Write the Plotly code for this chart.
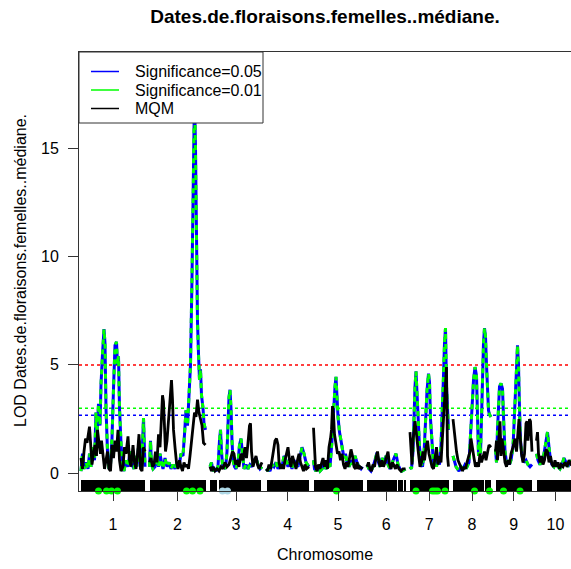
import plotly.graph_objects as go

# ---------------- data ----------------
CHROMOSOMES = ["1", "2", "3", "4", "5", "6", "7", "8", "9", "10"]
CHR_LENGTHS = [128, 112, 104, 85, 98, 77, 77, 76, 73, 76]   # cM
CHR_GAP = 9                                                  # cM between chromosomes

THRESH_RED = 5.0
THRESH_GREEN = 3.0
THRESH_BLUE = 2.68

# Significance LOD profile (pos cM within chromosome, LOD)
SIG_CHR1 = [(0,0.1),(3,0.9),(6,0.2),(10,0.5),(14,0.2),(17,0.9),(20,0.3),(24,1.2),(27,0.6),(30,2.8),
            (32,1.8),(35,3.2),(38,2.2),(40,4.1),(43,5.5),(46,6.65),(48,6.0),(50,3.0),(53,1.0),(56,0.2),
            (59,0.4),(62,1.6),(65,3.9),(68,5.9),(71,6.07),(73,5.0),(75,5.4),(77,3.0),(80,1.4),(83,0.3),
            (86,0.1),(90,0.6),(94,0.3),(98,1.0),(102,0.4),(106,0.2),(109,0.8),(112,0.3),(116,1.5),(120,0.2),
            (123,1.3),(125,2.55),(128,0.3)]
SIG_CHR2 = [(0,0.3),(2,1.5),(4,0.4),(7,0.2),(11,0.3),(15,0.8),(18,0.3),(21,0.9),(24,0.5),(27,0.2),
            (31,0.7),(35,0.3),(39,0.5),(43,0.2),(47,0.4),(51,0.2),(55,0.5),(59,0.3),(63,0.9),(67,0.8),
            (70,1.8),(73,2.9),(76,2.2),(79,3.5),(82,5.0),(85,9.0),(88,14.0),(90,17.5),(92,15.0),(94,10.0),
            (96,7.0),(98,5.5),(100,4.3),(102,4.8),(104,3.6),(107,3.0),(109,2.3),(112,2.0)]
SIG_CHR3 = [(0,0.3),(3,0.5),(6,0.1),(9,0.2),(12,0.1),(16,0.3),(19,1.5),(21,2.0),(23,1.0),(25,0.4),
            (28,0.3),(31,0.2),(34,1.0),(36,2.4),(38,3.5),(40,3.85),(42,3.0),(44,1.5),(46,0.6),(49,0.3),
            (52,0.2),(56,0.5),(59,1.3),(62,1.6),(65,0.8),(68,0.2),(72,0.4),(76,0.2),(80,0.4),(84,0.3),
            (88,0.6),(92,0.7),(96,0.4),(100,0.2),(104,0.3)]
SIG_CHR4 = [(0,0.1),(3,0.2),(7,0.1),(11,0.4),(15,0.3),(19,0.5),(23,0.2),(27,0.4),(31,0.3),(35,0.8),
            (39,0.6),(43,0.3),(47,0.5),(51,0.2),(55,0.6),(59,0.4),(63,0.3),(67,0.8),(71,1.2),(75,0.9),
            (79,0.5),(85,0.3)]
SIG_CHR5 = [(0,0.6),(2,0.2),(5,0.1),(9,0.3),(13,0.1),(17,0.2),(21,0.4),(25,0.2),(29,0.4),(33,0.3),
            (37,1.5),(40,3.0),(43,4.0),(45,4.45),(47,3.5),(49,2.6),(52,1.9),(55,1.5),(58,1.0),(61,0.7),
            (64,0.9),(67,0.5),(71,0.3),(75,0.6),(79,0.4),(83,0.8),(87,0.5),(91,0.3),(95,0.2),(98,0.3)]
SIG_CHR6 = [(0,0.4),(4,0.2),(8,0.1),(12,0.3),(16,0.6),(20,0.95),(23,0.5),(26,0.3),(30,0.7),(34,0.5),
            (38,0.8),(42,0.4),(46,0.2),(50,0.5),(54,0.7),(58,0.9),(62,0.4),(66,0.2),(70,0.1),(77,0.2)]
SIG_CHR7 = [(0,0.3),(3,0.2),(6,1.0),(8,2.8),(10,4.0),(12,4.7),(14,3.6),(16,2.4),(19,1.2),(22,0.5),
            (25,0.3),(28,0.9),(31,2.6),(34,3.8),(37,4.6),(39,4.2),(41,2.5),(44,1.2),(47,0.4),(50,0.6),
            (53,0.3),(56,0.7),(59,0.4),(62,1.3),(65,2.8),(67,4.5),(69,6.0),(71,6.7),(73,4.0),(75,3.0),
            (77,2.0)]
SIG_CHR8 = [(0,0.8),(3,0.5),(6,0.3),(9,0.2),(12,0.1),(16,0.3),(20,0.2),(24,0.4),(28,0.3),(32,0.5),
            (35,1.5),(38,3.0),(41,4.3),(44,4.9),(47,4.5),(49,2.3),(51,0.8),(53,1.5),(55,0.9),(57,2.5),
            (59,4.5),(61,6.0),(63,6.7),(65,6.3),(67,5.0),(69,3.4),(71,2.9),(73,2.7),(76,2.6)]
SIG_CHR9 = [(0,1.1),(2,0.5),(4,2.0),(6,3.2),(8,4.0),(11,4.15),(14,3.9),(16,2.6),(19,1.0),(22,0.5),
            (25,0.6),(28,0.4),(31,0.6),(35,1.2),(38,2.5),(40,3.5),(42,4.8),(44,5.9),(46,5.0),(48,3.0),
            (50,1.5),(53,0.8),(57,0.5),(61,0.6),(65,0.4),(69,0.3),(73,0.4)]
SIG_CHR10 = [(0,0.9),(3,0.6),(7,0.4),(11,0.6),(15,0.9),(19,1.5),(22,1.9),(25,1.2),(28,0.6),(31,0.4),
             (35,0.3),(39,0.5),(43,0.3),(47,0.2),(51,0.4),(55,0.7),(59,0.5),(63,0.3),(67,0.6),(71,0.4),
             (76,0.3)]

# MQM LOD profile
MQM_CHR1 = [(0,0.7),(3,0.2),(6,1.0),(9,1.6),(12,1.4),(15,2.0),(17,2.15),(20,1.1),(22,0.4),(25,0.9),
            (28,1.3),(31,0.8),(33,2.0),(36,1.4),(39,0.9),(41,1.5),(44,0.8),(47,0.2),(50,0.6),(53,1.0),
            (56,0.2),(59,0.1),(62,1.3),(65,0.7),(68,1.5),(71,1.0),(74,2.0),(77,0.6),(80,0.1),(84,0.3),
            (87,1.2),(90,0.9),(94,1.7),(97,0.6),(100,0.3),(104,1.3),(107,0.5),(110,0.2),(113,0.9),(116,1.8),
            (119,0.2),(122,0.1),(125,1.2),(128,1.0)]
MQM_CHR2 = [(0,0.5),(3,0.7),(6,0.3),(9,0.4),(12,1.0),(15,0.5),(18,1.8),(21,1.2),(24,2.6),(26,3.6),
            (28,3.3),(30,2.0),(32,1.0),(35,1.5),(38,2.5),(41,3.3),(44,4.3),(46,3.4),(48,2.0),(51,1.2),
            (54,0.5),(57,0.2),(60,0.6),(63,0.3),(66,0.1),(69,0.5),(72,0.3),(75,0.4),(78,0.2),(81,0.8),
            (84,1.6),(87,2.4),(90,2.8),(93,2.6),(96,3.4),(99,2.8),(102,2.5),(105,2.2),(108,1.4),(112,1.3)]
MQM_CHR3 = [(0,0.3),(3,0.1),(6,0.3),(10,0.1),(14,0.2),(18,0.1),(22,0.3),(26,0.2),(30,0.5),(34,0.3),
            (38,0.4),(42,0.8),(45,1.0),(48,0.9),(51,0.4),(54,0.6),(58,0.3),(62,0.9),(66,0.6),(70,1.2),
            (73,0.7),(76,1.4),(79,2.2),(81,2.3),(83,1.0),(86,0.3),(89,0.6),(92,0.8),(95,0.4),(98,0.2),
            (104,0.5)]
MQM_CHR4 = [(0,0.2),(2,0.1),(5,0.4),(8,0.2),(11,0.6),(14,1.1),(17,1.5),(20,1.6),(23,1.3),(25,0.5),
            (28,0.2),(31,0.4),(34,0.2),(37,0.6),(40,1.0),(43,1.2),(46,0.6),(49,0.3),(52,0.8),(55,0.5),
            (59,0.2),(62,0.6),(65,0.9),(68,0.5),(71,0.3),(74,0.1),(77,0.4),(80,0.2),(85,0.3)]
MQM_CHR5 = [(0,2.1),(2,1.2),(4,0.3),(7,0.1),(10,0.4),(13,0.2),(16,0.5),(19,0.7),(22,0.3),(25,0.6),
            (28,0.2),(31,1.2),(34,1.6),(36,2.0),(38,3.1),(40,2.7),(42,1.8),(45,1.4),(48,0.9),(51,1.0),
            (54,0.6),(57,0.9),(60,0.4),(63,0.2),(66,0.5),(69,0.3),(72,0.7),(75,1.1),(78,0.8),(81,0.3),
            (84,0.2),(87,0.5),(90,0.2),(93,0.3),(98,0.2)]
MQM_CHR6 = [(0,0.3),(3,0.5),(6,0.2),(9,0.1),(12,0.4),(15,0.3),(18,0.7),(21,1.0),(24,0.5),(27,0.3),
            (30,0.6),(33,0.3),(36,0.5),(39,0.8),(42,1.0),(45,0.4),(48,0.2),(51,0.5),(54,0.3),(57,0.2),
            (60,0.4),(64,0.2),(68,0.1),(72,0.2),(77,0.2)]
MQM_CHR7 = [(0,1.9),(2,1.0),(4,0.4),(6,1.5),(8,2.1),(10,2.4),(12,2.0),(14,1.4),(17,0.9),(20,0.3),
            (23,0.5),(26,1.0),(29,0.6),(32,1.2),(35,1.5),(38,0.9),(41,0.5),(44,0.3),(47,0.2),(50,0.6),
            (53,1.2),(56,0.4),(59,0.8),(62,0.5),(65,1.6),(67,2.4),(69,3.5),(71,4.0),(73,4.9),(75,0.8),
            (77,0.3)]
MQM_CHR8 = [(0,2.5),(2,2.0),(4,1.4),(7,1.0),(10,0.6),(13,0.4),(16,0.2),(19,0.1),(22,0.3),(25,0.2),
            (28,0.5),(31,0.8),(34,1.0),(36,1.6),(39,1.0),(42,0.7),(45,0.3),(48,0.5),(51,0.3),(54,0.9),
            (57,0.5),(60,0.8),(63,1.0),(66,0.6),(69,1.0),(72,1.3),(76,1.2)]
MQM_CHR9 = [(0,1.0),(2,1.5),(4,0.6),(6,1.3),(9,2.4),(11,0.8),(13,1.6),(16,1.1),(19,0.5),(22,0.3),
            (25,0.6),(28,0.4),(31,0.9),(35,1.2),(39,1.6),(42,1.0),(45,2.0),(47,2.5),(49,1.8),(52,0.9),
            (55,0.5),(58,0.9),(61,2.3),(63,2.4),(65,1.5),(68,2.5),(70,2.4),(73,1.0)]
MQM_CHR10 = [(0,1.5),(2,1.9),(4,0.9),(7,0.5),(10,0.8),(13,0.4),(16,0.6),(19,1.1),(22,1.0),(25,0.5),
             (28,0.8),(31,0.4),(34,0.3),(37,0.6),(40,0.3),(43,0.5),(46,0.2),(49,0.4),(53,0.3),(57,0.5),
             (61,0.3),(65,0.6),(69,0.4),(76,0.3)]

SIG_PROFILE = [SIG_CHR1, SIG_CHR2, SIG_CHR3, SIG_CHR4, SIG_CHR5,
               SIG_CHR6, SIG_CHR7, SIG_CHR8, SIG_CHR9, SIG_CHR10]
MQM_PROFILE = [MQM_CHR1, MQM_CHR2, MQM_CHR3, MQM_CHR4, MQM_CHR5,
               MQM_CHR6, MQM_CHR7, MQM_CHR8, MQM_CHR9, MQM_CHR10]

# marker-covered spans per chromosome (cM)
MARKER_SPANS = [[(0, 128)], [(0, 112)], [(0, 14), (17, 101)], [(0, 85)], [(0, 98)],
                [(0, 59), (62, 72), (76, 77)], [(0, 77)], [(0, 61), (64, 76)], [(0, 73)], [(0, 76)]]

# cofactor markers (chromosome index, cM)
COFACTORS = [(0, 35), (0, 51), (0, 61), (0, 73), (1, 74), (1, 86), (1, 101), (4, 46),
             (6, 12), (6, 45), (6, 50), (6, 55), (6, 70), (7, 43), (7, 73), (8, 16), (8, 49)]
DROPPED_COFACTORS = [(2, 25), (2, 35)]

TITLE = "Dates.de.floraisons.femelles..médiane."
YLABEL = "LOD Dates.de.floraisons.femelles..médiane."
XLABEL = "Chromosome"
LEGEND_LABELS = ["Significance=0.05", "Significance=0.01", "MQM"]
LEGEND_COLORS = ["#0000FF", "#00FF00", "#000000"]

# ---------------- layout helpers ----------------
offsets = []
acc = 0
for L in CHR_LENGTHS:
    offsets.append(acc)
    acc += L + CHR_GAP
centers = [o + L / 2 for o, L in zip(offsets, CHR_LENGTHS)]

def genome_xy(profile):
    xs, ys = [], []
    for i, chrom in enumerate(profile):
        for p, v in chrom:
            xs.append(offsets[i] + p)
            ys.append(v)
        xs.append(None)
        ys.append(None)
    return xs, ys

FONT = "Liberation Sans, Arial, sans-serif"
YMIN, YMAX = -0.82, 19.44
XMIN, XMAX = -4, 980
W, H = 571, 569
ML, MR, MT, MB = 79, 0, 52, 78
PW, PH = W - ML - MR, H - MT - MB

def px_x(px):
    return (px - ML) / PW

def px_y(py):
    return (H - MB - py) / PH

fig = go.Figure()

# thresholds
for val, col in [(THRESH_RED, "#FF0000"), (THRESH_GREEN, "#00FF00"), (THRESH_BLUE, "#0000FF")]:
    fig.add_trace(go.Scatter(x=[XMIN, XMAX], y=[val, val], mode="lines",
                             line=dict(color=col, width=1.5, dash="dot"),
                             hoverinfo="skip", showlegend=False))

# marker rug
rx, rw = [], []
for i, spans in enumerate(MARKER_SPANS):
    for a, b in spans:
        rx.append(offsets[i] + (a + b) / 2)
        rw.append(max(b - a, 1.2))
fig.add_trace(go.Bar(x=rx, y=[0.51] * len(rx), base=[YMIN] * len(rx), width=rw,
                     marker=dict(color="#000000", line=dict(width=0)), showlegend=False,
                     hoverinfo="skip"))

sx, sy = genome_xy(SIG_PROFILE)
mx, my = genome_xy(MQM_PROFILE)
fig.add_trace(go.Scatter(x=sx, y=sy, mode="lines", line=dict(color="#0000FF", width=3),
                         name=LEGEND_LABELS[0], showlegend=False))
fig.add_trace(go.Scatter(x=sx, y=sy, mode="lines", line=dict(color="#00FF00", width=3, dash="5px,5px"),
                         name=LEGEND_LABELS[1], showlegend=False))
fig.add_trace(go.Scatter(x=mx, y=my, mode="lines", line=dict(color="#000000", width=2.8),
                         name=LEGEND_LABELS[2], showlegend=False))

# cofactors
fig.add_trace(go.Scatter(x=[offsets[c] + p for c, p in COFACTORS], y=[YMIN] * len(COFACTORS),
                         mode="markers", marker=dict(color="#00FF00", size=7),
                         cliponaxis=False, showlegend=False))
fig.add_trace(go.Scatter(x=[offsets[c] + p for c, p in DROPPED_COFACTORS], y=[YMIN] * len(DROPPED_COFACTORS),
                         mode="markers", marker=dict(color="#ADD8E6", size=7),
                         cliponaxis=False, showlegend=False))

# legend (drawn manually, R style)
shapes = [dict(type="rect", xref="paper", yref="paper", x0=px_x(79), x1=px_x(263),
               y0=px_y(123), y1=px_y(52), fillcolor="white", line=dict(color="#333333", width=1),
               layer="above")]
annotations = []
for k, (lab, col) in enumerate(zip(LEGEND_LABELS, LEGEND_COLORS)):
    yy = px_y(71.5 + 18.5 * k)
    shapes.append(dict(type="line", xref="paper", yref="paper", x0=px_x(91), x1=px_x(119),
                       y0=yy, y1=yy, line=dict(color=col, width=1.5), layer="above"))
    annotations.append(dict(xref="paper", yref="paper", x=px_x(133), y=yy, text=lab,
                            showarrow=False, xanchor="left", yanchor="middle",
                            font=dict(family=FONT, size=16, color="#000000")))

annotations.append(dict(xref="paper", yref="paper", x=px_x(325), y=px_y(554), text=XLABEL,
                        showarrow=False, xanchor="center", yanchor="middle",
                        font=dict(family=FONT, size=16, color="#000000")))
annotations.append(dict(xref="paper", yref="paper", x=px_x(20), y=px_y(271), text=YLABEL,
                        showarrow=False, xanchor="center", yanchor="middle", textangle=-90,
                        font=dict(family=FONT, size=16, color="#000000")))

fig.update_layout(
    width=W, height=H,
    margin=dict(l=ML, r=MR, t=MT, b=MB, pad=0),
    paper_bgcolor="white", plot_bgcolor="white",
    barmode="overlay", bargap=0,
    title=dict(text="<b>" + TITLE + "</b>", x=px_x(325), xref="paper", xanchor="center",
               y=1 - 16 / H, yref="container", yanchor="middle",
               font=dict(family=FONT, size=19, color="#000000")),
    shapes=shapes, annotations=annotations,
    xaxis=dict(range=[XMIN, XMAX], tickmode="array", tickvals=centers, ticktext=CHROMOSOMES,
               ticks="outside", ticklen=9, tickcolor="#333333", tickwidth=1,
               showline=True, linecolor="#333333", linewidth=1, mirror=True,
               showgrid=False, zeroline=False, ticklabelstandoff=10,
               tickfont=dict(family=FONT, size=16, color="#000000")),
    yaxis=dict(range=[YMIN, YMAX], tickmode="array", tickvals=[0, 5, 10, 15],
               ticks="outside", ticklen=10, tickcolor="#333333", tickwidth=1,
               showline=True, linecolor="#333333", linewidth=1, mirror=True,
               showgrid=False, zeroline=False, ticklabelstandoff=6,
               tickfont=dict(family=FONT, size=16, color="#000000")),
)

fig.write_html("out.html", config={"displayModeBar": False},
               post_script="document.body.style.margin='0px';document.body.style.padding='0px';"
                           "document.documentElement.style.overflow='hidden';")
